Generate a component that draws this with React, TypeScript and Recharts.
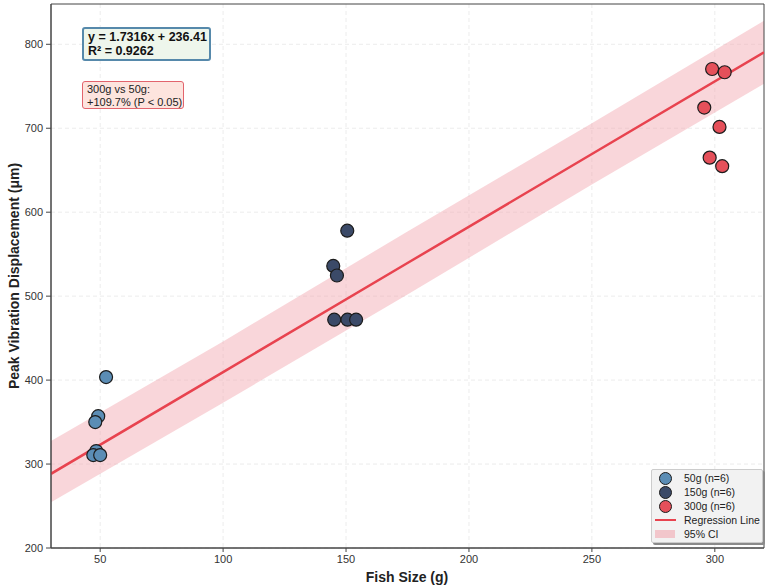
import React from "react";
import {
    ComposedChart,
    Area,
    Line,
    Scatter,
    XAxis,
    YAxis,
    CartesianGrid,
    ReferenceArea,
} from "recharts";

// Regression fit as reported in the annotation
const SLOPE = 1.7316;
const INTERCEPT = 236.41;
const R2 = 0.9262;

// Fish size groups: x = size (g), y = peak displacement (µm)
const group50 = [
    { x: 52.4, y: 403.6 },
    { x: 49.2, y: 357 },
    { x: 48, y: 350 },
    { x: 48.4, y: 315.5 },
    { x: 47.2, y: 310.7 },
    { x: 50, y: 310.7 },
];
const group150 = [
    { x: 150.5, y: 578 },
    { x: 144.8, y: 536 },
    { x: 146.3, y: 524.6 },
    { x: 145.2, y: 472 },
    { x: 150.6, y: 472 },
    { x: 154.1, y: 472 },
];
const group300 = [
    { x: 298.9, y: 770.6 },
    { x: 304, y: 766.7 },
    { x: 295.7, y: 724.6 },
    { x: 301.9, y: 701.6 },
    { x: 297.9, y: 665 },
    { x: 303, y: 654.8 },
];

// 95% CI band edges
const bandX = [30, 100, 175, 250, 320];
const bandLow = [254.5, 373, 502, 633, 753];
const bandHigh = [327.5, 446, 577, 706, 828];

const xTicks = [50, 100, 150, 200, 250, 300];
const yTicks = [200, 300, 400, 500, 600, 700, 800];
const X_DOMAIN = [30, 320];
const Y_DOMAIN = [200, 848];

const COLORS = {
    g50: "#5b8db5",
    g150: "#3b4a68",
    g300: "#e5505a",
    line: "#e8434f",
    band: "#f2a3ac",
};

const FONT = "'Liberation Sans', Arial, sans-serif";

const lineData = bandX.map((x, i) => ({
    x,
    fit: SLOPE * x + INTERCEPT,
    band: [bandLow[i], bandHigh[i]],
}));

const dot = (fill: string) => (props: any) => (
    <circle
        cx={props.cx}
        cy={props.cy}
        r={6.5}
        fill={fill}
        stroke="#1c1c1c"
        strokeWidth={1.2}
    />
);

const LegendBox = () => {
    const row = { display: "flex", alignItems: "center", height: 14 };
    const marker = (c: string) => (
        <div style={{ width: 21, display: "flex", justifyContent: "center" }}>
            <div
                style={{
                    width: 11,
                    height: 11,
                    borderRadius: "50%",
                    background: c,
                    border: "1.2px solid #1c1c1c",
                }}
            />
        </div>
    );
    return (
        <div
            style={{
                position: "absolute",
                left: 651,
                top: 469,
                width: 112,
                height: 74,
                boxSizing: "border-box",
                background: "#f2f2f2",
                border: "1px solid #cccccc",
                borderRadius: 2,
                boxShadow: "2px 2px 0 #8a8a8a",
                padding: "1px 0 0 3px",
                fontSize: 10.5,
                whiteSpace: "nowrap",
                color: "#222",
                fontFamily: FONT,
            }}
        >
            {[
                { c: COLORS.g50, t: "50g (n=6)" },
                { c: COLORS.g150, t: "150g (n=6)" },
                { c: COLORS.g300, t: "300g (n=6)" },
            ].map((e) => (
                <div key={e.t} style={row}>
                    {marker(e.c)}
                    <span style={{ marginLeft: 8 }}>{e.t}</span>
                </div>
            ))}
            <div style={row}>
                <div style={{ width: 21, height: 2.5, background: COLORS.line }} />
                <span style={{ marginLeft: 8 }}>Regression Line</span>
            </div>
            <div style={row}>
                <div
                    style={{
                        width: 20,
                        height: 8,
                        background: COLORS.band,
                        opacity: 0.55,
                    }}
                />
                <span style={{ marginLeft: 9 }}>95% CI</span>
            </div>
        </div>
    );
};

export default function App() {
    return (
        <div
            style={{
                position: "absolute",
                left: 0,
                top: 0,
                width: 767,
                height: 588,
                background: "#fff",
                fontFamily: FONT,
            }}
        >
            <ComposedChart
                width={767}
                height={588}
                data={lineData}
                margin={{ top: 4, right: 3, bottom: 0, left: 0 }}
            >
                <CartesianGrid
                    stroke="#ececec"
                    strokeDasharray="4 3"
                    horizontalValues={yTicks}
                    verticalValues={xTicks}
                />
                <XAxis
                    dataKey="x"
                    type="number"
                    domain={X_DOMAIN}
                    ticks={xTicks}
                    allowDataOverflow
                    height={40}
                    tickSize={4}
                    tickMargin={3}
                    stroke="#444"
                    tick={{ fontSize: 11, fill: "#333", fontFamily: FONT }}
                    label={{
                        content: () => (
                            <text
                                x={407}
                                y={582}
                                textAnchor="middle"
                                fontSize={14}
                                fontWeight="bold"
                                fill="#222"
                                fontFamily={FONT}
                            >
                                Fish Size (g)
                            </text>
                        ),
                    }}
                />
                <YAxis
                    type="number"
                    domain={Y_DOMAIN}
                    ticks={yTicks}
                    allowDataOverflow
                    width={51}
                    tickSize={5}
                    tickMargin={3}
                    stroke="#444"
                    tick={{ fontSize: 11, fill: "#333", fontFamily: FONT }}
                    label={{
                        content: () => (
                            <text
                                x={14}
                                y={276}
                                transform="rotate(-90 14 276)"
                                textAnchor="middle"
                                dominantBaseline="central"
                                fontSize={14}
                                fontWeight="bold"
                                fill="#222"
                                fontFamily={FONT}
                            >
                                Peak Vibration Displacement (μm)
                            </text>
                        ),
                    }}
                />
                <Area
                    dataKey="band"
                    type="linear"
                    fill={COLORS.band}
                    fillOpacity={0.45}
                    stroke="none"
                    isAnimationActive={false}
                    activeDot={false}
                />
                <Line
                    dataKey="fit"
                    type="linear"
                    stroke={COLORS.line}
                    strokeWidth={2.5}
                    dot={false}
                    activeDot={false}
                    isAnimationActive={false}
                />
                <Scatter data={group50} dataKey="y" shape={dot(COLORS.g50)} isAnimationActive={false} />
                <Scatter data={group150} dataKey="y" shape={dot(COLORS.g150)} isAnimationActive={false} />
                <Scatter data={group300} dataKey="y" shape={dot(COLORS.g300)} isAnimationActive={false} />
                <ReferenceArea
                    x1={X_DOMAIN[0]}
                    x2={X_DOMAIN[1]}
                    y1={Y_DOMAIN[0]}
                    y2={Y_DOMAIN[1]}
                    fill="none"
                    stroke="#444"
                    strokeWidth={1}
                />
            </ComposedChart>

            {/* equation + R² */}
            <div
                style={{
                    position: "absolute",
                    left: 82,
                    top: 27,
                    width: 129,
                    height: 34,
                    boxSizing: "border-box",
                    background: "#eef6ec",
                    border: "2px solid #5689ab",
                    borderRadius: 3,
                    padding: "1px 0 0 4px",
                    fontSize: 12.5,
                    fontWeight: "bold",
                    lineHeight: "14px",
                    whiteSpace: "nowrap",
                    color: "#111",
                }}
            >
                <div>y = {SLOPE}x + {INTERCEPT}</div>
                <div>R² = {R2}</div>
            </div>

            {/* group comparison */}
            <div
                style={{
                    position: "absolute",
                    left: 82,
                    top: 81,
                    width: 102,
                    height: 28,
                    boxSizing: "border-box",
                    background: "#fde4de",
                    border: "1.5px solid #e2646d",
                    borderRadius: 3,
                    padding: "1px 0 0 4px",
                    fontSize: 11,
                    lineHeight: "12.5px",
                    whiteSpace: "nowrap",
                    color: "#222",
                }}
            >
                <div>300g vs 50g:</div>
                <div>+109.7% (P &lt; 0.05)</div>
            </div>

            <LegendBox />
        </div>
    );
}
